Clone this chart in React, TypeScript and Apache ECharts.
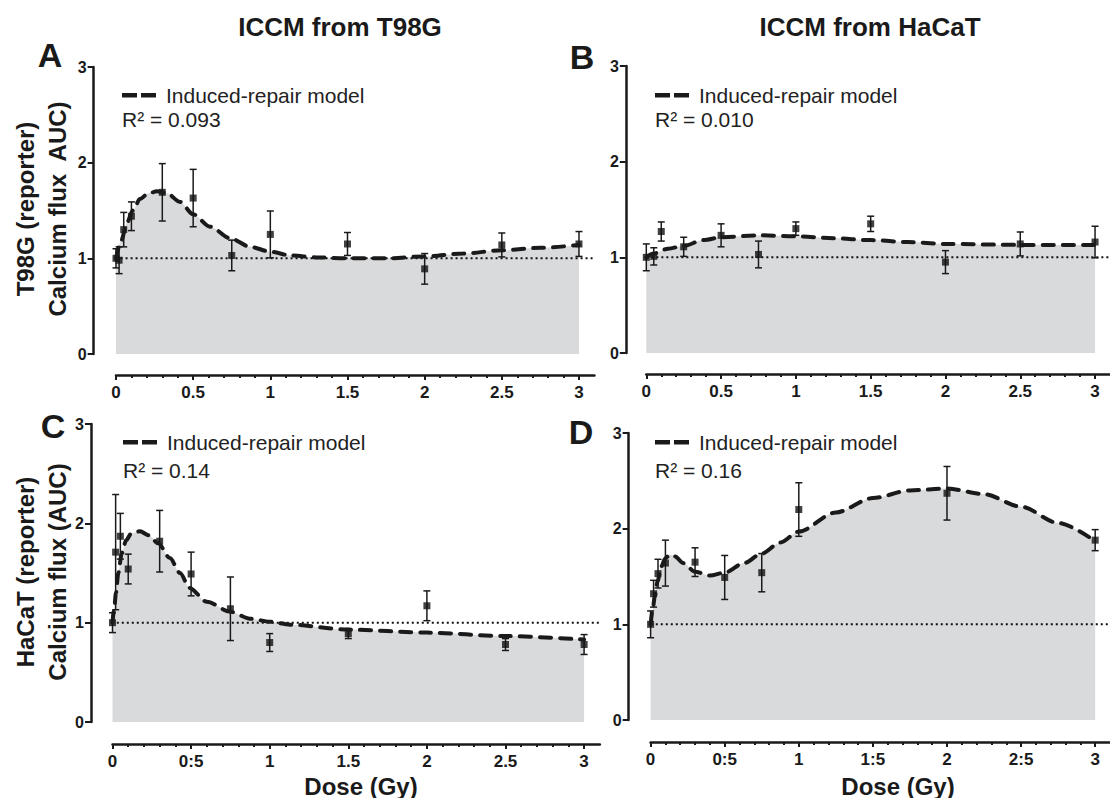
import React, { useEffect, useRef } from "react";
import * as echarts from "echarts";

// ---------- data ----------
// Panel A: T98G reporter, ICCM from T98G
const doseA = [0, 0.02, 0.05, 0.1, 0.3, 0.5, 0.75, 1, 1.5, 2, 2.5, 3];
const meanA = [1.0, 0.98, 1.3, 1.44, 1.69, 1.63, 1.03, 1.25, 1.15, 0.89, 1.14, 1.15];
const semA = [0.1, 0.14, 0.18, 0.15, 0.3, 0.3, 0.16, 0.245, 0.12, 0.16, 0.125, 0.13];
const modelDoseA = [0, 0.035, 0.07, 0.11, 0.155, 0.21, 0.265, 0.33, 0.415, 0.5, 0.61, 0.74, 0.87, 1.0, 1.13, 1.3, 1.5, 1.75, 2.0, 2.25, 2.5, 2.75, 3.0];
const modelA = [1.0, 1.19, 1.37, 1.5, 1.62, 1.68, 1.7, 1.68, 1.59, 1.46, 1.33, 1.21, 1.12, 1.07, 1.03, 1.01, 1.0, 1.0, 1.02, 1.05, 1.085, 1.11, 1.14];

// Panel B: T98G reporter, ICCM from HaCaT
const doseB = [0, 0.05, 0.1, 0.25, 0.5, 0.75, 1, 1.5, 2, 2.5, 3];
const meanB = [1.0, 1.01, 1.27, 1.11, 1.23, 1.03, 1.3, 1.35, 0.95, 1.14, 1.16];
const semB = [0.14, 0.09, 0.1, 0.1, 0.12, 0.14, 0.07, 0.08, 0.12, 0.125, 0.165];
const modelDoseB = [0, 0.05, 0.145, 0.25, 0.38, 0.5, 0.75, 1, 1.25, 1.5, 1.75, 2, 2.5, 3];
const modelB = [1.0, 1.04, 1.09, 1.12, 1.18, 1.21, 1.23, 1.22, 1.2, 1.18, 1.16, 1.14, 1.13, 1.13];

// Panel C: HaCaT reporter, ICCM from T98G
const doseC = [0, 0.02, 0.05, 0.1, 0.3, 0.5, 0.75, 1, 1.5, 2, 2.5, 3];
const meanC = [1.0, 1.71, 1.87, 1.54, 1.82, 1.49, 1.14, 0.8, 0.89, 1.17, 0.78, 0.78];
const semC = [0.1, 0.58, 0.23, 0.15, 0.31, 0.22, 0.32, 0.09, 0.05, 0.15, 0.06, 0.1];
const modelDoseC = [0, 0.01, 0.022, 0.037, 0.059, 0.087, 0.12, 0.175, 0.23, 0.29, 0.365, 0.43, 0.49, 0.6, 0.75, 0.875, 1.0, 1.13, 1.5, 2, 2.5, 3];
const modelC = [1.0, 1.13, 1.3, 1.5, 1.7, 1.83, 1.9, 1.92, 1.88, 1.8, 1.65, 1.5, 1.35, 1.21, 1.11, 1.04, 1.01, 0.98, 0.93, 0.9, 0.865, 0.83];

// Panel D: HaCaT reporter, ICCM from HaCaT
const doseD = [0, 0.02, 0.05, 0.1, 0.3, 0.5, 0.75, 1, 2, 3];
const meanD = [1.0, 1.32, 1.53, 1.64, 1.65, 1.49, 1.54, 2.2, 2.37, 1.88];
const semD = [0.14, 0.14, 0.15, 0.24, 0.15, 0.23, 0.2, 0.28, 0.28, 0.11];
const modelDoseD = [0, 0.014, 0.028, 0.047, 0.07, 0.1, 0.13, 0.165, 0.22, 0.3, 0.4, 0.5, 0.63, 0.75, 0.875, 1.0, 1.25, 1.5, 1.75, 2.0, 2.25, 2.5, 2.75, 3.0];
const modelD = [1.0, 1.15, 1.29, 1.45, 1.6, 1.69, 1.73, 1.71, 1.64, 1.55, 1.51, 1.54, 1.64, 1.74, 1.855, 1.97, 2.17, 2.32, 2.40, 2.42, 2.36, 2.23, 2.06, 1.87];

// ---------- ticks and texts ----------
const xTickValues = [0, 0.5, 1, 1.5, 2, 2.5, 3];
const xMinorTickValues = Array.from({ length: 31 }, (_, i) => i / 10);
const xLabelsA = ["0", "0.5", "1", "1.5", "2", "2.5", "3"];
const xLabelsB = ["0", "0.5", "1", "1.5", "2", "2.5", "3"];
const xLabelsC = ["0", "0:5", "1", "1.5", "2", "2.5", "3"];
const xLabelsD = ["0", "0:5", "1", "1:5", "2", "2:5", "3"];
const baselineSpan = [-0.1, 3.1];
const baselineValue = 1;

const columnTitles = ["ICCM from T98G", "ICCM from HaCaT"];
const panelLetters = ["A", "B", "C", "D"];
const rowNames = [
  ["T98G (reporter)", "Calcium flux  AUC)"],
  ["HaCaT (reporter)", "Calcium flux (AUC)"],
];
const modelName = "Induced-repair model";
const r2Labels = ["R\u00B2 = 0.093", "R\u00B2 = 0.010", "R\u00B2 = 0.14", "R\u00B2 = 0.16"];
const xTitle = "Dose (Gy)";

// ---------- styling / layout ----------
const FONT = "'Liberation Sans', Arial, Helvetica, sans-serif";
const INK = "#1a1a1a";
const FILL = "#d9dadc";

const panels = [
  { dose: doseA, mean: meanA, sem: semA, mDose: modelDoseA, model: modelA, labels: xLabelsA,
    left: 116, top: 67, perGy: 154.33, height: 287, yOff: 22.4, xOff: 21,
    legX: 122, legY: 95, r2Y: 119, letterX: 50, letterY: 55 },
  { dose: doseB, mean: meanB, sem: semB, mDose: modelDoseB, model: modelB, labels: xLabelsB,
    left: 646.3, top: 66, perGy: 151.9, height: 287, yOff: 20.5, xOff: 21,
    legX: 655, legY: 95, r2Y: 119, letterX: 582, letterY: 57 },
  { dose: doseC, mean: meanC, sem: semC, mDose: modelDoseC, model: modelC, labels: xLabelsC,
    left: 112.5, top: 424, perGy: 157.2, height: 298, yOff: 21.5, xOff: 22,
    legX: 123, legY: 442, r2Y: 470, letterX: 53, letterY: 426 },
  { dose: doseD, mean: meanD, sem: semD, mDose: modelDoseD, model: modelD, labels: xLabelsD,
    left: 650.6, top: 433, perGy: 151.4, height: 287, yOff: 22, xOff: 22,
    legX: 655, legY: 442, r2Y: 470, letterX: 581, letterY: 432 },
];

function buildOption() {
  const grid: any[] = [];
  const xAxis: any[] = [];
  const yAxis: any[] = [];
  const series: any[] = [];
  const graphic: any[] = [];

  panels.forEach((p, i) => {
    grid.push({ left: p.left, top: p.top, width: p.perGy * 3.1, height: p.height, containLabel: false });
    xAxis.push({
      type: "value", gridIndex: i, min: 0, max: 3.1, position: "bottom", offset: p.xOff,
      axisLine: { show: true, onZero: false, lineStyle: { color: INK, width: 2.5 } },
      axisTick: { show: true, length: 5, customValues: xTickValues, lineStyle: { color: INK, width: 2 } },
      axisLabel: {
        show: true, customValues: xTickValues, margin: 9, color: INK, fontSize: 17, fontWeight: "bold", fontFamily: FONT,
        formatter: (v: number) => p.labels[Math.round(v * 2)] ?? "",
      },
      splitLine: { show: false },
    });
    xAxis.push({
      type: "value", gridIndex: i, min: 0, max: 3.1, position: "bottom", offset: p.xOff,
      axisLine: { show: false, onZero: false },
      axisTick: { show: true, length: 3, customValues: xMinorTickValues, lineStyle: { color: INK, width: 2 } },
      axisLabel: { show: false },
      splitLine: { show: false },
    });
    yAxis.push({
      type: "value", gridIndex: i, min: 0, max: 3, interval: 1, position: "left", offset: p.yOff,
      axisLine: { show: true, onZero: false, lineStyle: { color: INK, width: 2.5 } },
      axisTick: { show: true, length: 6, lineStyle: { color: INK, width: 2 } },
      axisLabel: { show: true, margin: 7, color: INK, fontSize: 16, fontWeight: "bold", fontFamily: FONT },
      splitLine: { show: false },
    });

    const modelData = p.mDose.map((d, j) => [d, p.model[j]]);
    const xi = 2 * i;
    series.push({
      type: "line", xAxisIndex: xi, yAxisIndex: i, data: modelData, smooth: 0.3, smoothMonotone: "x",
      symbol: "none", silent: true, lineStyle: { width: 0, opacity: 0 },
      areaStyle: { color: FILL, opacity: 1 }, z: 1,
    });
    series.push({
      type: "line", xAxisIndex: xi, yAxisIndex: i, clip: false, silent: true, symbol: "none",
      data: baselineSpan.map((d) => [d, baselineValue]),
      lineStyle: { color: "#111", width: 2, type: [2, 3] }, z: 2,
    });
    series.push({
      type: "custom", xAxisIndex: xi, yAxisIndex: i, silent: true, z: 3,
      data: p.dose.map((d, j) => [d, p.mean[j] - p.sem[j], p.mean[j] + p.sem[j]]),
      encode: { x: 0, y: [1, 2] },
      renderItem: (params: any, api: any) => {
        const x = api.value(0);
        const lo = api.coord([x, api.value(1)]);
        const hi = api.coord([x, api.value(2)]);
        const cap = 3.5;
        const st = { stroke: INK, lineWidth: 1.5 };
        return {
          type: "group",
          children: [
            { type: "line", shape: { x1: lo[0], y1: lo[1], x2: hi[0], y2: hi[1] }, style: st },
            { type: "line", shape: { x1: lo[0] - cap, y1: lo[1], x2: lo[0] + cap, y2: lo[1] }, style: st },
            { type: "line", shape: { x1: hi[0] - cap, y1: hi[1], x2: hi[0] + cap, y2: hi[1] }, style: st },
          ],
        };
      },
    });
    series.push({
      type: "scatter", xAxisIndex: xi, yAxisIndex: i, silent: true, z: 4,
      symbol: "rect", symbolSize: 7, itemStyle: { color: "#111" },
      data: p.dose.map((d, j) => [d, p.mean[j]]),
    });
    series.push({
      type: "line", name: modelName, xAxisIndex: xi, yAxisIndex: i, data: modelData, smooth: 0.3, smoothMonotone: "x",
      symbol: "none", silent: true, z: 5,
      lineStyle: { color: INK, width: 4, type: [11, 9], cap: "round" },
    });

    graphic.push({ type: "rect", shape: { x: p.legX, y: p.legY - 2, width: 15, height: 4.5 }, style: { fill: INK } });
    graphic.push({ type: "rect", shape: { x: p.legX + 19, y: p.legY - 2, width: 15, height: 4.5 }, style: { fill: INK } });
    graphic.push({
      type: "text", x: p.legX + 44, y: p.legY,
      style: { text: modelName, x: 0, y: 0, fill: "#222", font: `21px ${FONT}`, textAlign: "left", align: "left", textVerticalAlign: "middle", verticalAlign: "middle" },
    });
    graphic.push({
      type: "text", x: p.legX, y: p.r2Y,
      style: { text: r2Labels[i], x: 0, y: 0, fill: "#222", font: `21px ${FONT}`, textAlign: "left", align: "left", textVerticalAlign: "middle", verticalAlign: "middle" },
    });
    graphic.push({
      type: "text", x: p.letterX, y: p.letterY,
      style: { text: panelLetters[i], x: 0, y: 0, fill: INK, font: `bold 34px ${FONT}`, textAlign: "center", align: "center", textVerticalAlign: "middle", verticalAlign: "middle" },
    });
  });

  const titleX = [340, 870];
  columnTitles.forEach((t, k) => {
    graphic.push({
      type: "text", x: titleX[k], y: 27,
      style: { text: t, x: 0, y: 0, fill: INK, font: `bold 26px ${FONT}`, textAlign: "center", align: "center", textVerticalAlign: "middle", verticalAlign: "middle" },
    });
  });
  const rowY = [209, 572];
  rowNames.forEach((lines, r) => {
    [25, 57].forEach((lx, k) => {
      graphic.push({
        type: "text", x: lx, y: rowY[r], rotation: Math.PI / 2,
        style: { text: lines[k], x: 0, y: 0, fill: INK, font: `bold 24px ${FONT}`, textAlign: "center", align: "center", textVerticalAlign: "middle", verticalAlign: "middle" },
      });
    });
  });
  [361, 898].forEach((tx) => {
    graphic.push({
      type: "text", x: tx, y: 786,
      style: { text: xTitle, x: 0, y: 0, fill: INK, font: `bold 24px ${FONT}`, textAlign: "center", align: "center", textVerticalAlign: "middle", verticalAlign: "middle" },
    });
  });

  return {
    animation: false,
    backgroundColor: "#ffffff",
    textStyle: { fontFamily: FONT },
    grid, xAxis, yAxis, series, graphic,
  };
}

export default function App() {
  const ref = useRef<HTMLDivElement>(null);
  useEffect(() => {
    if (!ref.current) return;
    const chart = echarts.init(ref.current, undefined, { renderer: "svg" });
    chart.setOption(buildOption() as any);
    return () => chart.dispose();
  }, []);
  return <div ref={ref} style={{ position: "absolute", left: 0, top: 0, width: 1110, height: 798 }} />;
}
